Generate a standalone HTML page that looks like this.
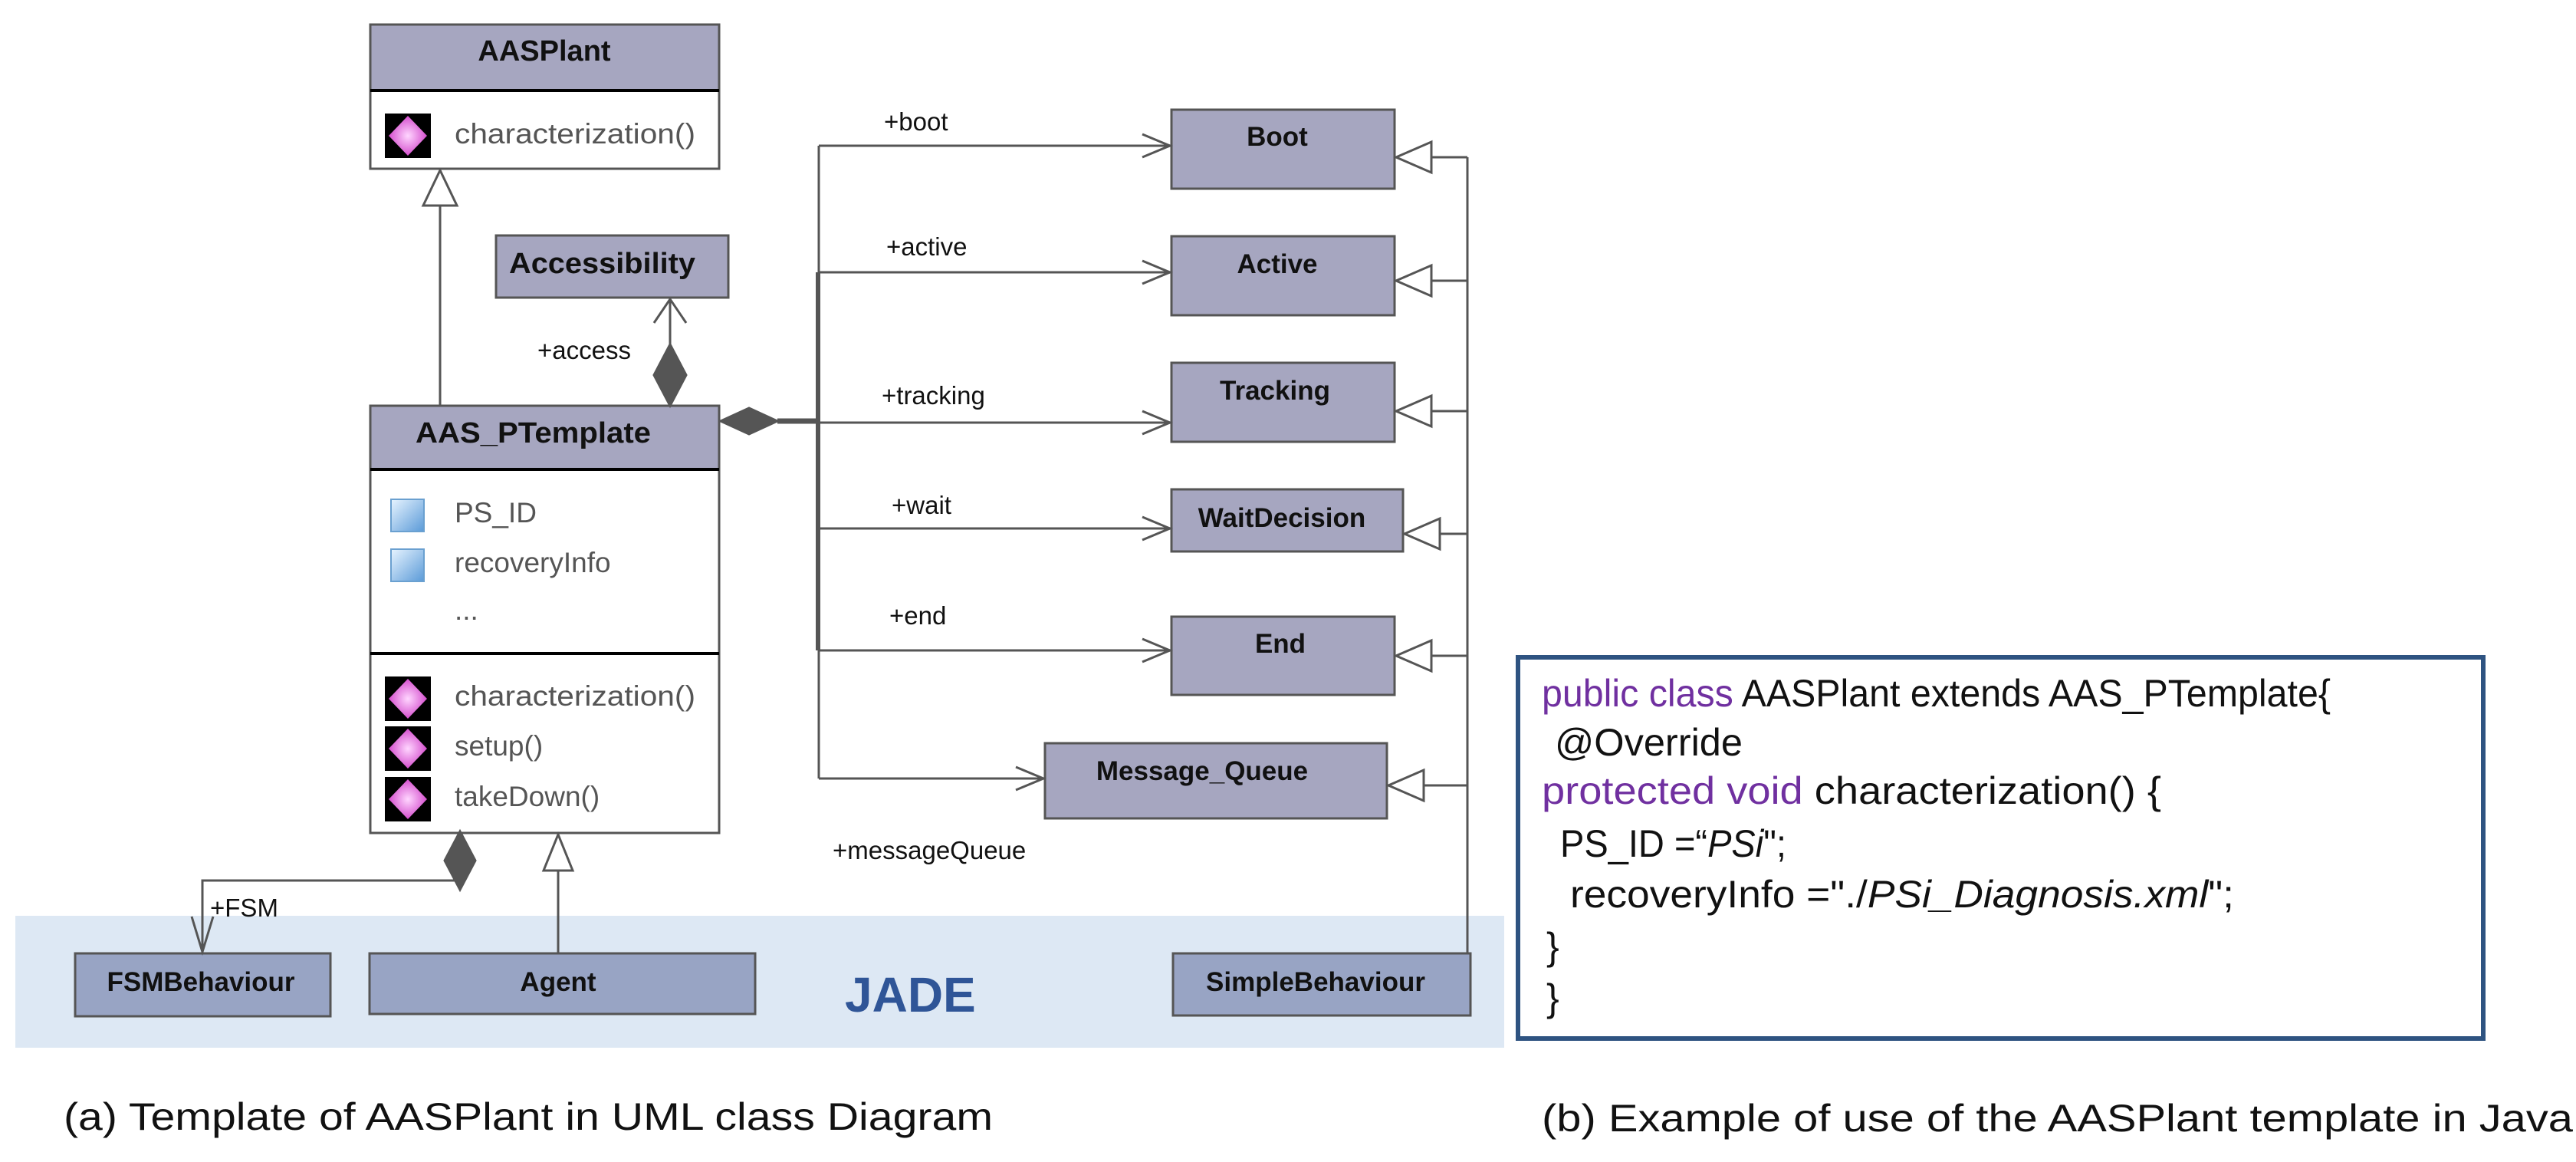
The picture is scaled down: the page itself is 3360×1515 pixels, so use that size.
<!DOCTYPE html>
<html><head><meta charset="utf-8"><style>
html,body{margin:0;padding:0;background:#fff;}
svg{display:block;}
.t{font-family:"Liberation Sans",sans-serif;}
.b{font-family:"Liberation Sans",sans-serif;font-weight:bold;fill:#111;font-size:35px;}
.bl{font-family:"Liberation Sans",sans-serif;font-weight:bold;fill:#111;font-size:38px;}
.m{font-family:"Liberation Sans",sans-serif;fill:#555;font-size:37px;}
.l{font-family:"Liberation Sans",sans-serif;fill:#111;font-size:33px;}
.c{font-family:"Liberation Sans",sans-serif;font-size:50px;fill:#111;}
</style></head><body>
<svg width="3360" height="1515" viewBox="0 0 3360 1515" xmlns="http://www.w3.org/2000/svg">
<defs>
<radialGradient id="pk" cx="50%" cy="50%" r="55%"><stop offset="0" stop-color="#ffd6ff"/><stop offset="1" stop-color="#d040c8"/></radialGradient>
<linearGradient id="bl" x1="0" y1="0" x2="1" y2="1"><stop offset="0" stop-color="#e8f4ff"/><stop offset="1" stop-color="#5a9ad8"/></linearGradient>
<g id="mi"><rect width="60" height="58" fill="#000"/><polygon points="30,3 55,29 30,55 5,29" fill="url(#pk)"/></g>
<g id="ai"><rect width="43" height="42" fill="url(#bl)" stroke="#6aa0d0" stroke-width="2"/></g>
</defs>
<rect x="20" y="1194" width="1942" height="172" fill="#dde8f4"/>
<g stroke="#555" stroke-width="3" fill="none">
<rect x="483" y="32" width="455" height="188" fill="#fff"/>
<rect x="483" y="32" width="455" height="86" fill="#a6a6c0"/>
<line x1="483" y1="118" x2="938" y2="118" stroke="#000" stroke-width="4"/>
<rect x="647" y="307" width="303" height="81" fill="#a6a6c0"/>
<rect x="483" y="529" width="455" height="557" fill="#fff"/>
<rect x="483" y="529" width="455" height="83" fill="#a6a6c0"/>
<line x1="483" y1="612" x2="938" y2="612" stroke="#000" stroke-width="4"/>
<line x1="483" y1="852" x2="938" y2="852" stroke="#000" stroke-width="4"/>
<rect x="1528" y="143" width="291" height="103" fill="#a6a6c0"/>
<rect x="1528" y="308" width="291" height="103" fill="#a6a6c0"/>
<rect x="1528" y="473" width="291" height="103" fill="#a6a6c0"/>
<rect x="1528" y="638" width="302" height="81" fill="#a6a6c0"/>
<rect x="1528" y="804" width="291" height="102" fill="#a6a6c0"/>
<rect x="1363" y="969" width="446" height="98" fill="#a6a6c0"/>
<rect x="98" y="1243" width="333" height="82" fill="#98a4c4"/>
<rect x="482" y="1243" width="503" height="79" fill="#98a4c4"/>
<rect x="1530" y="1243" width="388" height="81" fill="#98a4c4"/>
<line x1="574" y1="268" x2="574" y2="529"/>
<polygon points="574,222 552,268 596,268" fill="#fff"/>
<line x1="874" y1="390" x2="874" y2="449"/>
<polyline points="853,421 874,390 895,421"/>
<polygon points="874,449 895,489 874,529 853,489" fill="#555"/>
<polygon points="940,549 977,532 1014,549 977,566" fill="#555"/>
<line x1="1014" y1="549" x2="1068" y2="549" stroke-width="7"/>
<line x1="1068" y1="190" x2="1068" y2="1015"/>
<line x1="1067" y1="355" x2="1067" y2="848" stroke-width="6"/>
<line x1="1068" y1="190" x2="1526" y2="190"/><polyline points="1490,175 1526,190 1490,205"/>
<line x1="1068" y1="355" x2="1526" y2="355"/><polyline points="1490,340 1526,355 1490,370"/>
<line x1="1068" y1="551" x2="1526" y2="551"/><polyline points="1490,536 1526,551 1490,566"/>
<line x1="1068" y1="689" x2="1526" y2="689"/><polyline points="1490,674 1526,689 1490,704"/>
<line x1="1068" y1="848" x2="1526" y2="848"/><polyline points="1490,833 1526,848 1490,863"/>
<line x1="1068" y1="1015" x2="1361" y2="1015"/><polyline points="1325,1000 1361,1015 1325,1030"/>
<line x1="1914" y1="205" x2="1914" y2="1243"/>
<polygon points="1821,205 1867,185 1867,225" fill="#fff"/><line x1="1867" y1="205" x2="1914" y2="205"/>
<polygon points="1821,366 1867,346 1867,386" fill="#fff"/><line x1="1867" y1="366" x2="1914" y2="366"/>
<polygon points="1821,536 1867,516 1867,556" fill="#fff"/><line x1="1867" y1="536" x2="1914" y2="536"/>
<polygon points="1832,696 1878,676 1878,716" fill="#fff"/><line x1="1878" y1="696" x2="1914" y2="696"/>
<polygon points="1821,855 1867,835 1867,875" fill="#fff"/><line x1="1867" y1="855" x2="1914" y2="855"/>
<polygon points="1811,1024 1857,1004 1857,1044" fill="#fff"/><line x1="1857" y1="1024" x2="1914" y2="1024"/>
<polygon points="600,1084 620,1122 600,1160 580,1122" fill="#555"/>
<polyline points="600,1148 264,1148 264,1241"/>
<polyline points="250,1195 264,1241 278,1195"/>
<line x1="728" y1="1135" x2="728" y2="1243"/>
<polygon points="728,1088 709,1135 747,1135" fill="#fff"/>
</g>
<rect x="1980" y="857" width="1259" height="497" fill="#fff" stroke="#2e5381" stroke-width="6"/>
<use href="#mi" x="502" y="148"/>
<use href="#ai" x="510" y="651"/>
<use href="#ai" x="510" y="716"/>
<use href="#mi" x="502" y="882"/>
<use href="#mi" x="502" y="947"/>
<use href="#mi" x="502" y="1013"/>
<text class="bl" x="710" y="79" text-anchor="middle">AASPlant</text>
<text class="m" x="593" y="187" textLength="314" lengthAdjust="spacingAndGlyphs">characterization()</text>
<text class="bl" x="664" y="356" textLength="243" lengthAdjust="spacingAndGlyphs">Accessibility</text>
<text class="bl" x="542" y="577" textLength="307" lengthAdjust="spacingAndGlyphs">AAS_PTemplate</text>
<text class="m" x="593" y="681">PS_ID</text>
<text class="m" x="593" y="746">recoveryInfo</text>
<text class="m" x="593" y="808">...</text>
<text class="m" x="593" y="920" textLength="314" lengthAdjust="spacingAndGlyphs">characterization()</text>
<text class="m" x="593" y="985">setup()</text>
<text class="m" x="593" y="1051">takeDown()</text>
<text class="l" x="701" y="468">+access</text>
<text class="l" x="1153" y="170">+boot</text>
<text class="l" x="1156" y="333">+active</text>
<text class="l" x="1150" y="527">+tracking</text>
<text class="l" x="1163" y="670">+wait</text>
<text class="l" x="1160" y="814">+end</text>
<text class="l" x="1086" y="1120">+messageQueue</text>
<text class="l" x="274" y="1195">+FSM</text>
<text class="b" x="1666" y="190" text-anchor="middle">Boot</text>
<text class="b" x="1666" y="356" text-anchor="middle">Active</text>
<text class="b" x="1663" y="521" text-anchor="middle">Tracking</text>
<text class="b" x="1672" y="687" text-anchor="middle">WaitDecision</text>
<text class="b" x="1670" y="851" text-anchor="middle">End</text>
<text class="b" x="1568" y="1017" text-anchor="middle">Message_Queue</text>
<text class="b" x="262" y="1292" text-anchor="middle" fill="#222">FSMBehaviour</text>
<text class="b" x="728" y="1292" text-anchor="middle" fill="#222">Agent</text>
<text class="b" x="1716" y="1292" text-anchor="middle" fill="#222">SimpleBehaviour</text>
<text class="t" x="1102" y="1319" font-size="64" font-weight="bold" fill="#2f5597">JADE</text>
<g class="c">
<text x="2011" y="921" textLength="1029" lengthAdjust="spacingAndGlyphs"><tspan fill="#7030a0">public class</tspan> AASPlant extends AAS_PTemplate{</text>
<text x="2028" y="985" textLength="245" lengthAdjust="spacingAndGlyphs">@Override</text>
<text x="2011" y="1048" textLength="808" lengthAdjust="spacingAndGlyphs"><tspan fill="#7030a0">protected void</tspan> characterization() {</text>
<text x="2035" y="1117" textLength="295" lengthAdjust="spacingAndGlyphs">PS_ID =“<tspan font-style="italic">PSi</tspan>";</text>
<text x="2048" y="1183" textLength="866" lengthAdjust="spacingAndGlyphs">recoveryInfo ="./<tspan font-style="italic">PSi_Diagnosis.xml</tspan>";</text>
<text x="2017" y="1251">}</text>
<text x="2017" y="1318">}</text>
</g>
<text class="c" x="83" y="1473" textLength="1212" lengthAdjust="spacingAndGlyphs">(a) Template of AASPlant in UML class Diagram</text>
<text class="c" x="2011" y="1475" textLength="1345" lengthAdjust="spacingAndGlyphs">(b) Example of use of the AASPlant template in Java</text>
</svg>
</body></html>
